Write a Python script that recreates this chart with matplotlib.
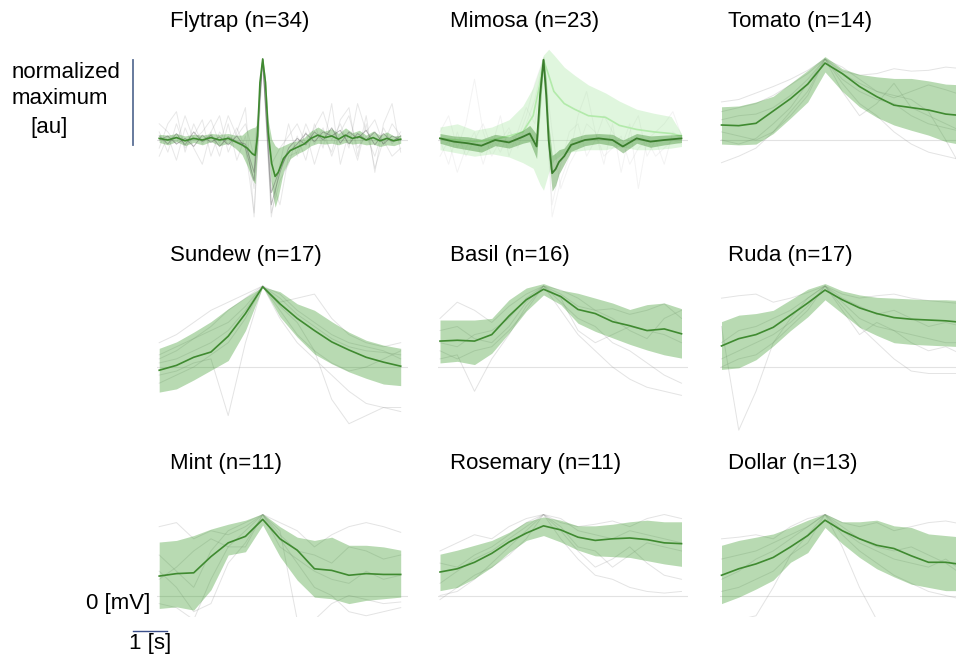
import matplotlib
matplotlib.use("Agg")
import matplotlib.pyplot as plt
import numpy as np

plt.rcParams['font.family'] = ['Liberation Sans', 'DejaVu Sans']

# time grids [s], spike/peak at t = 0
t_half = [-3, -2.5, -2, -1.5, -1, -0.5, 0, 0.5, 1, 1.5, 2, 2.5, 3, 3.5, 4]
t_quarter = [-3, -2.75, -2.5, -2.25, -2, -1.75, -1.5, -1.25, -1, -0.75, -0.5, -0.25, 0,
             0.25, 0.5, 0.75, 1, 1.25, 1.5, 1.75, 2, 2.25, 2.5, 2.75, 3, 3.25, 3.5, 3.75, 4]

titles = ["Flytrap (n=34)", "Mimosa (n=23)", "Tomato (n=14)",
          "Sundew (n=17)", "Basil (n=16)", "Ruda (n=17)",
          "Mint (n=11)", "Rosemary (n=11)", "Dollar (n=13)"]

# ---- Flytrap ----
fly_t = [-3, -2.75, -2.5, -2.25, -2, -1.75, -1.5, -1.25, -1, -0.8, -0.6, -0.45, -0.3, -0.22, -0.15,
         -0.08, 0, 0.08, 0.16, 0.26, 0.36, 0.45, 0.6, 0.8, 1.0, 1.2, 1.4, 1.6, 1.8, 2.0, 2.2, 2.4,
         2.6, 2.8, 3.0, 3.2, 3.4, 3.6, 3.8, 4.0]
fly_mean = [0.02, 0.0, 0.03, -0.01, 0.02, 0.0, 0.03, 0.0, 0.02, -0.02, -0.06, -0.1, -0.17, -0.19,
            0.05, 0.71, 1.0, 0.71, 0.09, -0.29, -0.45, -0.40, -0.23, -0.13, -0.09, -0.05, 0.02, 0.06,
            0.03, 0.05, 0.01, 0.06, 0.02, 0.04, 0.0, 0.03, -0.01, 0.02, -0.01, 0.01]
fly_std = [0.05, 0.06, 0.05, 0.06, 0.05, 0.06, 0.05, 0.07, 0.06, 0.08, 0.12, 0.22, 0.32, 0.35, 0.15,
           0.05, 0.01, 0.05, 0.15, 0.3, 0.38, 0.3, 0.16, 0.1, 0.08, 0.08, 0.09, 0.1, 0.08, 0.09,
           0.07, 0.09, 0.07, 0.08, 0.06, 0.08, 0.07, 0.08, 0.06, 0.05]
fly_gray = [
    [0.1, -0.15, 0.2, -0.1, 0.05, 0.25, -0.2, 0.1, -0.05, 0.15, -0.1, -0.9, 1.0, -0.5, -0.8, -0.2, -0.15,
     0.2, -0.05, 0.15, -0.2, 0.1, 0.3, -0.1, 0.05, -0.2, 0.15, -0.05, 0.1],
    [-0.2, 0.05, -0.25, 0.15, -0.1, -0.3, 0.1, -0.2, 0.2, -0.25, 0.05, -0.6, 1.0, -0.9, -0.5, -0.3, 0.05,
     -0.25, 0.2, -0.1, 0.45, -0.3, 0.1, -0.25, 0.2, -0.35, 0.0, -0.2, -0.1],
    [0.2, 0.1, -0.05, 0.3, 0.0, 0.1, 0.25, -0.05, 0.3, 0.05, 0.2, -0.2, 1.0, -0.3, -0.1, 0.05, 0.2,
     -0.05, 0.15, 0.35, 0.0, 0.2, -0.1, 0.45, 0.1, 0.25, -0.05, 0.2, 0.05],
    [-0.1, 0.2, 0.35, -0.15, 0.2, -0.05, 0.1, 0.3, -0.15, 0.1, 0.4, -0.95, 1.0, -0.95, -0.3, 0.2, -0.2,
     0.1, -0.3, 0.05, -0.15, 0.25, 0.4, -0.2, 0.3, -0.4, 0.2, 0.45, -0.15],
]
fly_dark = [
    [0.0, 0.05, -0.05, 0.02, -0.08, 0.06, -0.03, 0.04, -0.06, 0.05, -0.1, -0.5, 1.0, -0.65, -0.35, -0.15,
     -0.05, 0.08, -0.02, 0.1, 0.05, 0.12, -0.05, 0.08, 0.0, 0.1, -0.05, 0.05, 0.0],
    [0.05, -0.05, 0.08, -0.06, 0.1, -0.02, 0.06, -0.08, 0.04, -0.02, -0.05, -0.4, 1.0, -0.8, -0.4, -0.1,
     0.02, -0.06, 0.1, 0.0, 0.15, -0.04, 0.1, 0.02, 0.12, -0.06, 0.08, -0.02, 0.05],
]

# ---- Mimosa ----
mim_t = [-3, -2.6, -2.2, -1.8, -1.4, -1.0, -0.6, -0.4, -0.2, -0.1, 0, 0.08, 0.15, 0.25, 0.35, 0.45,
         0.6, 0.8, 1.2, 1.6, 2.0, 2.3, 2.7, 3.1, 3.5, 4.0]
mim_mean = [0.02, -0.02, -0.04, -0.07, 0.0, -0.03, 0.04, 0.08, -0.08, 0.55, 0.99, 0.55, 0.0, -0.41,
            -0.36, -0.27, -0.2, -0.06, 0.0, 0.02, 0.0, -0.08, 0.02, -0.02, 0.0, 0.02]
mim_std = [0.06, 0.07, 0.08, 0.08, 0.07, 0.07, 0.08, 0.1, 0.15, 0.2, 0.05, 0.2, 0.2, 0.22, 0.2, 0.15,
           0.1, 0.08, 0.07, 0.06, 0.07, 0.08, 0.06, 0.07, 0.06, 0.05]
mim2_t = [-3, -2.5, -2, -1.5, -1, -0.6, -0.3, -0.1, 0, 0.15, 0.3, 0.6, 0.9, 1.3, 1.8, 2.2, 2.7, 3.2, 3.7, 4.0]
mim2_mean = [0.02, 0.0, -0.02, 0.0, 0.05, 0.1, 0.3, 0.7, 0.99, 0.8, 0.6, 0.45, 0.38, 0.3, 0.28, 0.18,
             0.13, 0.1, 0.08, 0.05]
mim2_hi = [0.16, 0.2, 0.12, 0.16, 0.25, 0.42, 0.65, 0.9, 1.05, 1.12, 1.05, 0.9, 0.8, 0.68, 0.58, 0.48,
           0.38, 0.33, 0.29, 0.08]
mim2_lo = [-0.12, -0.16, -0.2, -0.17, -0.21, -0.28, -0.35, -0.55, -0.62, -0.4, -0.25, -0.16, -0.14,
           -0.12, -0.12, -0.08, -0.12, -0.12, -0.1, -0.08]
mim_gray = [
    [0.1, 0.3, -0.1, 0.2, 0.75, 0.1, -0.2, 0.0, 0.15, -0.1, 0.2, 0.5, 1.0, -0.8, -0.3, 0.1, 0.2, -0.2,
     0.0, 0.3, 0.1, -0.1, 0.2, -0.6, 0.0, 0.1, 0.2, 0.35, 0.05],
    [-0.2, 0.0, -0.4, -0.1, 0.1, -0.3, 0.05, -0.15, 0.1, 0.0, 0.3, 0.7, 1.0, -0.95, -0.5, -0.2, 0.3, 0.6,
     0.1, -0.2, -0.1, 0.05, -0.3, -0.1, 0.0, -0.2, -0.1, 0.0, -0.05],
    [0.0, -0.3, 0.1, -0.2, 0.0, 0.2, -0.1, 0.3, -0.2, 0.1, 0.4, 0.2, 1.0, 0.1, -0.6, -0.3, -0.1, 0.2,
     0.1, -0.3, 0.2, -0.4, 0.1, 0.3, -0.2, 0.0, -0.3, 0.1, 0.0],
]

# ---- slow responders (sampled every 0.5 s) ----
tom_mean = [0.185, 0.177, 0.206, 0.358, 0.51, 0.69, 0.95, 0.82, 0.66, 0.535, 0.43, 0.40, 0.37, 0.32, 0.30]
tom_hi = [0.41, 0.42, 0.47, 0.54, 0.70, 0.86, 1.03, 0.88, 0.81, 0.78, 0.76, 0.76, 0.73, 0.69, 0.68]
tom_lo = [-0.05, -0.06, -0.05, 0.08, 0.27, 0.47, 0.84, 0.60, 0.41, 0.28, 0.185, 0.12, 0.06, -0.02, -0.06]
tom_gray = [
    [0.47, 0.5, 0.58, 0.66, 0.75, 0.86, 1.0, 0.85, 0.8, 0.82, 0.88, 0.85, 0.86, 0.9, 0.88],
    [-0.28, -0.2, -0.1, 0.1, 0.35, 0.6, 1.0, 0.7, 0.45, 0.3, 0.1, -0.05, -0.15, -0.2, -0.25],
    [0.1, 0.05, 0.0, 0.1, 0.3, 0.55, 1.0, 0.6, 0.3, 0.45, 0.7, 0.4, 0.3, 0.2, 0.1],
    [0.35, 0.4, 0.45, 0.55, 0.68, 0.82, 1.0, 0.82, 0.7, 0.6, 0.55, 0.5, 0.35, 0.0, -0.38],
    [0.0, -0.05, 0.02, 0.2, 0.4, 0.7, 1.0, 0.75, 0.6, 0.5, 0.45, 0.3, 0.2, 0.15, 0.1],
    [0.25, 0.3, 0.32, 0.4, 0.55, 0.75, 1.0, 0.9, 0.75, 0.6, 0.52, 0.6, 0.68, 0.62, 0.55],
]

sun_mean = [-0.04, 0.02, 0.12, 0.185, 0.38, 0.66, 0.99, 0.78, 0.60, 0.45, 0.31, 0.21, 0.12, 0.06, 0.01]
sun_hi = [0.23, 0.31, 0.43, 0.56, 0.72, 0.86, 0.99, 0.93, 0.78, 0.70, 0.56, 0.43, 0.33, 0.27, 0.23]
sun_lo = [-0.31, -0.27, -0.16, -0.04, 0.08, 0.45, 0.99, 0.62, 0.37, 0.16, 0.04, -0.06, -0.14, -0.21, -0.23]
sun_gray = [
    [0.1, 0.2, 0.35, 0.5, 0.7, 0.85, 1.0, 0.85, 0.65, 0.5, 0.35, 0.25, 0.2, 0.18, 0.15],
    [-0.1, -0.05, 0.05, 0.1, -0.6, 0.3, 1.0, 0.6, 0.3, 0.1, -0.1, -0.3, -0.45, -0.5, -0.55],
    [0.3, 0.4, 0.55, 0.7, 0.8, 0.9, 1.0, 0.8, 0.85, 0.9, 0.6, 0.4, 0.3, 0.25, 0.3],
    [-0.2, -0.1, 0.0, 0.15, 0.3, 0.6, 1.0, 0.7, 0.4, 0.2, 0.05, -0.05, 0.0, 0.1, 0.2],
    [0.15, 0.25, 0.35, 0.45, 0.55, 0.75, 1.0, 0.75, 0.55, 0.2, -0.4, -0.7, -0.6, -0.5, -0.5],
    [0.05, 0.1, 0.2, 0.3, 0.45, 0.7, 1.0, 0.9, 0.7, 0.55, 0.4, 0.3, 0.25, 0.2, 0.1],
]

bas_mean = [0.32, 0.33, 0.32, 0.40, 0.63, 0.83, 0.96, 0.87, 0.71, 0.66, 0.56, 0.51, 0.45, 0.47, 0.41]
bas_hi = [0.58, 0.58, 0.58, 0.60, 0.83, 0.975, 1.03, 0.95, 0.91, 0.85, 0.79, 0.71, 0.77, 0.79, 0.72]
bas_lo = [0.05, 0.07, 0.03, 0.17, 0.42, 0.69, 0.89, 0.77, 0.54, 0.44, 0.36, 0.28, 0.21, 0.15, 0.11]
bas_gray = [
    [0.6, 0.8, 0.7, 0.55, 0.75, 0.9, 1.0, 0.9, 0.75, 0.7, 0.72, 0.65, 0.7, 0.78, 0.6],
    [0.1, 0.15, -0.3, 0.1, 0.4, 0.75, 1.0, 0.7, 0.4, 0.2, 0.0, -0.15, -0.25, -0.3, -0.35],
    [0.3, 0.25, 0.4, 0.45, 0.6, 0.85, 1.0, 0.85, 0.45, 0.3, 0.4, 0.5, 0.45, 0.4, 0.3],
    [0.45, 0.5, 0.35, 0.3, 0.5, 0.8, 1.0, 0.95, 0.85, 0.7, 0.6, 0.45, 0.35, 0.6, 0.7],
    [0.2, 0.1, 0.2, 0.25, 0.45, 0.7, 1.0, 0.8, 0.6, 0.5, 0.3, 0.2, 0.05, -0.1, -0.2],
]

rud_mean = [0.26, 0.35, 0.40, 0.49, 0.64, 0.79, 0.95, 0.83, 0.73, 0.66, 0.61, 0.59, 0.58, 0.57, 0.55]
rud_hi = [0.56, 0.64, 0.66, 0.70, 0.83, 0.96, 1.03, 0.94, 0.89, 0.86, 0.85, 0.84, 0.83, 0.83, 0.82]
rud_lo = [-0.03, -0.01, 0.09, 0.26, 0.45, 0.62, 0.83, 0.66, 0.49, 0.39, 0.30, 0.28, 0.27, 0.26, 0.25]
rud_gray = [
    [0.5, -0.78, -0.3, 0.3, 0.6, 0.85, 1.0, 0.8, 0.6, 0.5, 0.45, 0.4, 0.35, 0.3, 0.3],
    [0.85, 0.88, 0.9, 0.8, 0.85, 0.92, 1.0, 0.9, 0.85, 0.88, 0.9, 0.85, 0.82, 0.8, 0.78],
    [0.1, 0.2, 0.3, 0.4, 0.55, 0.75, 1.0, 0.75, 0.5, 0.3, 0.1, -0.05, -0.08, -0.08, -0.08],
    [0.3, 0.45, 0.5, 0.6, 0.7, 0.85, 1.0, 0.85, 0.75, 0.65, 0.7, 0.6, 0.5, 0.55, 0.5],
    [0.0, 0.1, 0.15, 0.3, 0.5, 0.7, 1.0, 0.7, 0.4, 0.55, 0.45, 0.3, 0.2, 0.25, 0.15],
]

min_mean = [0.24, 0.27, 0.28, 0.48, 0.65, 0.73, 0.94, 0.70, 0.56, 0.33, 0.31, 0.25, 0.27, 0.26, 0.26]
min_hi = [0.66, 0.68, 0.74, 0.82, 0.88, 0.93, 1.01, 0.85, 0.72, 0.68, 0.72, 0.62, 0.62, 0.60, 0.56]
min_lo = [-0.16, -0.14, -0.18, 0.07, 0.50, 0.54, 0.87, 0.48, 0.19, -0.02, -0.04, -0.10, -0.06, -0.04, -0.02]
min_gray = [
    [0.85, 0.9, 0.7, 0.8, 0.75, 0.85, 1.0, 0.9, 0.8, 0.6, 0.75, 0.85, 0.9, 0.85, 0.78],
    [-0.1, -0.15, -0.3, 0.2, 0.6, 0.8, 1.0, 0.8, -0.3, -0.3, -0.1, 0.0, -0.05, -0.1, -0.08],
    [0.5, 0.3, 0.1, 0.55, 0.8, 0.9, 1.0, 0.75, 0.55, 0.5, 0.4, 0.6, 0.55, 0.45, 0.5],
    [0.2, 0.35, 0.55, 0.7, 0.6, 0.6, 1.0, 0.6, 0.45, 0.3, 0.2, 0.15, 0.3, 0.2, 0.25],
    [0.3, 0.1, -0.2, -0.1, 0.4, 0.65, 1.0, 0.7, 0.4, 0.1, 0.0, -0.2, -0.25, -0.2, -0.15],
]

ros_mean = [0.29, 0.33, 0.41, 0.52, 0.66, 0.77, 0.86, 0.81, 0.72, 0.68, 0.70, 0.71, 0.69, 0.65, 0.64]
ros_hi = [0.51, 0.56, 0.62, 0.68, 0.78, 0.91, 0.97, 0.93, 0.86, 0.86, 0.88, 0.91, 0.93, 0.91, 0.91]
ros_lo = [0.06, 0.10, 0.21, 0.35, 0.53, 0.68, 0.74, 0.66, 0.56, 0.49, 0.48, 0.47, 0.43, 0.39, 0.36]
ros_gray = [
    [0.55, 0.65, 0.75, 0.7, 0.85, 0.95, 1.0, 0.9, 0.85, 0.88, 0.92, 0.85, 0.95, 1.0, 0.95],
    [0.0, 0.05, 0.2, 0.4, 0.6, 0.8, 1.0, 0.7, 0.45, 0.25, 0.2, 0.1, 0.05, 0.03, 0.05],
    [0.15, 0.3, 0.45, 0.55, 0.7, 0.85, 1.0, 0.85, 0.6, 0.55, 0.35, 0.5, 0.65, 0.6, 0.55],
    [0.4, 0.35, 0.5, 0.6, 0.75, 0.9, 1.0, 0.95, 0.8, 0.75, 0.7, 0.8, 0.75, 0.7, 0.65],
    [-0.05, 0.1, 0.25, 0.35, 0.5, 0.7, 1.0, 0.8, 0.55, 0.35, 0.45, 0.6, 0.4, 0.25, 0.2],
]

dol_mean = [0.25, 0.33, 0.39, 0.47, 0.60, 0.74, 0.93, 0.80, 0.70, 0.62, 0.58, 0.49, 0.41, 0.41, 0.38]
dol_hi = [0.62, 0.68, 0.72, 0.76, 0.84, 0.93, 1.01, 0.91, 0.91, 0.93, 0.86, 0.84, 0.76, 0.74, 0.72]
dol_lo = [-0.10, -0.02, 0.08, 0.19, 0.41, 0.53, 0.84, 0.64, 0.47, 0.33, 0.23, 0.14, 0.10, 0.06, 0.06]
dol_gray = [
    [0.7, 0.72, 0.75, 0.7, 0.85, 0.95, 1.0, 0.9, 0.85, 0.9, 0.8, 0.85, 0.9, 0.92, 0.88],
    [-0.3, -0.3, -0.25, 0.1, 0.5, 0.75, 1.0, 0.6, 0.1, -0.3, -0.3, -0.3, -0.3, -0.3, -0.3],
    [0.2, 0.3, 0.45, 0.55, 0.7, 0.85, 1.0, 0.8, 0.65, 0.55, 0.45, 0.4, 0.35, 0.45, 0.3],
    [0.45, 0.5, 0.55, 0.65, 0.75, 0.85, 1.0, 0.85, 0.7, 0.6, 0.55, 0.6, 0.5, 0.4, 0.25],
    [0.05, 0.1, 0.2, 0.3, 0.5, 0.65, 1.0, 0.75, 0.55, 0.4, 0.25, 0.15, 0.05, 0.0, -0.05],
]

GREEN_FILL = '#3a9a2a'
GREEN_LINE = '#3f8a30'
GRAY = '#8c8c8c'

W, H = 956, 655
fig = plt.figure(figsize=(W / 100, H / 100), dpi=100)

px_per_s = 34.5
px_per_unit = 81
col_peak = [262.7, 543.5, 825]
row_zero = [140, 367, 595.5]
row_ylim = [(-1.21, 1.15), (-1.0, 1.15), (-0.27, 1.15)]
xlim = (-3.05, 4.2)


def make_ax(r, c):
    x0 = col_peak[c] + xlim[0] * px_per_s
    w = (xlim[1] - xlim[0]) * px_per_s
    ylo, yhi = row_ylim[r]
    top = row_zero[r] - yhi * px_per_unit
    bot = row_zero[r] - ylo * px_per_unit
    ax = fig.add_axes([x0 / W, 1 - bot / H, w / W, (bot - top) / H])
    ax.set_xlim(*xlim)
    ax.set_ylim(ylo, yhi)
    ax.axis('off')
    ax.axhline(0, color='#e2e2e2', lw=0.8, zorder=0)
    return ax


def draw(ax, t, mean, lo, hi, gray, gray_t, gray_alpha=0.24):
    for g in gray:
        ax.plot(gray_t, g, color=GRAY, lw=0.7, alpha=gray_alpha, zorder=1)
    ax.fill_between(t, lo, hi, color=GREEN_FILL, alpha=0.36, lw=0, zorder=2)
    ax.plot(t, mean, color=GREEN_LINE, lw=1.2, zorder=3)


panels = [
    (t_half, tom_mean, tom_lo, tom_hi, tom_gray),
    (t_half, sun_mean, sun_lo, sun_hi, sun_gray),
    (t_half, bas_mean, bas_lo, bas_hi, bas_gray),
    (t_half, rud_mean, rud_lo, rud_hi, rud_gray),
    (t_half, min_mean, min_lo, min_hi, min_gray),
    (t_half, ros_mean, ros_lo, ros_hi, ros_gray),
    (t_half, dol_mean, dol_lo, dol_hi, dol_gray),
]
positions = [(0, 2), (1, 0), (1, 1), (1, 2), (2, 0), (2, 1), (2, 2)]

# Flytrap
ax = make_ax(0, 0)
fm = np.array(fly_mean)
fs = np.array(fly_std)
draw(ax, fly_t, fm, fm - fs, fm + fs, fly_gray, t_quarter, 0.2)
for g in fly_dark:
    ax.plot(t_quarter, g, color='#555555', lw=0.7, alpha=0.4, zorder=2.5)

# Mimosa: two groups, a pale one and a dark one
ax = make_ax(0, 1)
for g in mim_gray:
    ax.plot(t_quarter, g, color=GRAY, lw=0.7, alpha=0.1, zorder=1)
ax.fill_between(mim2_t, mim2_lo, mim2_hi, color='#9ae393', alpha=0.3, lw=0, zorder=2)
ax.plot(mim2_t, mim2_mean, color='#b2eaaa', lw=1.2, zorder=3)
mm = np.array(mim_mean)
ms = np.array(mim_std)
ax.fill_between(mim_t, mm - ms, mm + ms, color='#3a8a2a', alpha=0.4, lw=0, zorder=3.5)
ax.plot(mim_t, mm, color='#3a7d2c', lw=1.3, zorder=4)

for (r, c), (t, m, lo, hi, gray) in zip(positions, panels):
    ax = make_ax(r, c)
    draw(ax, t, m, lo, hi, gray, t_half)

# titles
title_x = [170, 450, 728]
title_y = [22, 255, 463]
for i, name in enumerate(titles):
    fig.text(title_x[i % 3] / W, 1 - title_y[i // 3] / H, name, fontsize=16,
             ha='left', va='center')

# scale annotations
fig.text(12 / W, 1 - 72 / H, "normalized", fontsize=16, ha='left', va='center')
fig.text(12 / W, 1 - 99 / H, "maximum", fontsize=16, ha='left', va='center')
fig.text(30 / W, 1 - 128 / H, "[au]", fontsize=16, ha='left', va='center')
fig.add_artist(plt.Line2D([133 / W, 133 / W], [1 - 60 / H, 1 - 145 / H], color='#5b7095', lw=1.3))
fig.text(150 / W, 1 - 603 / H, "0 [mV]", fontsize=16, ha='right', va='center')
fig.add_artist(plt.Line2D([133 / W, 167 / W], [1 - 631 / H, 1 - 631 / H], color='#3b4f8a', lw=1.0))
fig.text(150 / W, 1 - 643 / H, "1 [s]", fontsize=16, ha='center', va='center')

fig.savefig('out.png', dpi=100)
